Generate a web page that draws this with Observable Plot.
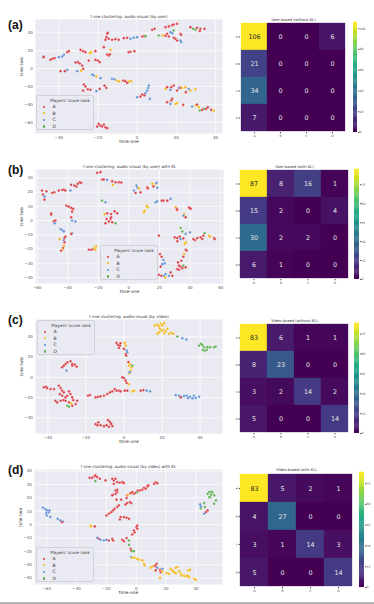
<!DOCTYPE html>
<html><head><meta charset="utf-8">
<script src="https://cdn.jsdelivr.net/npm/d3@7"></script>
<script src="https://cdn.jsdelivr.net/npm/@observablehq/plot@0.6"></script>
<style>
body{margin:0;background:#fff;}
#root{position:relative;width:374px;height:604px;overflow:hidden;font-family:"DejaVu Sans",sans-serif;background:#fff;}
.tag{position:absolute;font:bold 12px/1 "Liberation Sans",Arial,sans-serif;color:#111;}
.legend{position:absolute;background:rgba(234,234,242,0.9);border:0.6px solid #d2d2da;border-radius:2px;color:#333;font-family:"DejaVu Sans",sans-serif;}
.legend .lt{position:absolute;left:0;right:0;text-align:center;font-size:4.2px;line-height:5px;}
.legend .dot{position:absolute;width:2.4px;height:2.4px;border-radius:50%;}
.legend .lab{position:absolute;font-size:4.6px;line-height:5px;}
</style></head><body><div id="root"></div>
<script>
// ---- categories & colours
const ranks = ["A", "B", "C", "D"];
const rankColors = ["#d93a40", "#f2b50e", "#5b8fd4", "#5aad4b"];

// ---- scatter tick labels
const ticksA_x = [-40, -20, 0, 20, 40];
const ticksA_y = [-60, -40, -20, 0, 20, 40];
const ticksB_x = [-60, -40, -20, 0, 20, 40, 60];
const ticksB_y = [-40, -30, -20, -10, 0, 10, 20, 30];
const ticksC_x = [-40, -20, 0, 20, 40];
const ticksC_y = [-40, -20, 0, 20, 40];
const ticksD_x = [-60, -40, -20, 0, 20, 40];
const ticksD_y = [-40, -30, -20, -10, 0, 10, 20, 30, 40];

// ---- t-SNE points [tsne-one, tsne-two, rank]
const tsneUser = [
 [7.7,43.4,"A"],[8.9,44.5,"A"],[14.5,46.3,"A"],[16.2,47.1,"A"],[17.9,48.6,"A"],[18.7,49.3,"A"],[20.4,50.1,"A"],
 [11.0,37.0,"D"],[13.0,37.0,"B"],[14.5,36.5,"A"],[18.7,42.6,"D"],[17.0,40.7,"C"],[17.9,39.6,"C"],[15.3,38.9,"A"],
 [16.2,35.9,"A"],[18.7,34.4,"A"],[19.6,33.3,"A"],[22.1,38.9,"A"],[22.5,37.8,"A"],[22.1,31.4,"C"],[22.5,29.6,"C"],[20.4,31.4,"A"],
 [27.2,46.3,"A"],[28.6,44.5,"D"],[29.8,43.4,"D"],[30.6,45.6,"A"],[32.3,44.5,"A"],[32.0,41.9,"A"],[34.4,44.5,"A"],
 [-48.0,13.5,"C"],[-47.7,12.8,"A"],[-44.3,9.8,"A"],[-43.4,10.9,"A"],[-42.2,11.6,"A"],[-40.0,12.8,"C"],[-38.3,13.5,"C"],
 [-37.4,15.4,"C"],[-35.7,18.4,"A"],[-34.9,19.5,"A"],
 [-15.3,38.9,"A"],[-15.0,40.0,"A"],[-15.7,35.1,"A"],[-16.2,32.2,"A"],[-14.5,33.3,"A"],[-12.8,32.2,"A"],[-11.1,32.9,"A"],
 [-9.4,32.2,"A"],[-6.8,34.0,"A"],[-5.1,34.4,"A"],[-3.4,33.3,"C"],[-1.7,34.4,"C"],[0,35.1,"C"],[2.6,35.9,"A"],[3.7,36.3,"A"],[4.3,36.3,"D"],
 [-17.0,24.0,"A"],[-15.3,15.7,"A"],[-14.5,14.6,"A"],[-13.6,21.0,"B"],[-13.9,16.0,"A"],[-4.3,18.4,"A"],[-3.4,18.7,"A"],[-1.4,19.5,"A"],
 [-28.9,21.0,"A"],[-27.6,19.5,"A"],[-26.4,18.4,"A"],[-24.2,17.2,"B"],[-23.5,18.4,"B"],[-21.3,19.5,"A"],
 [-24.7,9.0,"A"],[-21.3,9.8,"A"],[-20.1,9.0,"A"],[-19.1,7.2,"A"],[-31.5,6.8,"A"],[-30.3,7.2,"A"],[-29.3,5.7,"A"],[-28.1,3.4,"A"],
 [-27.6,-0.4,"A"],[-28.6,-2.2,"B"],
 [-39.1,-2.9,"A"],[-36.9,-2.9,"A"],[-35.7,-1.4,"C"],[-30.6,-2.9,"C"],
 [-23.0,-6.6,"C"],[-22.1,-7.8,"C"],[-20.8,-8.9,"B"],[-18.7,-10.7,"C"],[-12.8,-11.5,"C"],[-11.6,-11.9,"C"],[-10.2,-13.4,"B"],
 [-9.2,-14.5,"B"],[-7.1,-13.4,"A"],[-6.0,-14.1,"A"],[-4.3,-14.9,"B"],[-3.1,-14.1,"B"],[-5.1,-16.0,"A"],
 [-27.2,-17.8,"A"],[-26.4,-20.1,"A"],[-25.2,-23.1,"A"],[-23.8,-23.8,"A"],[-20.8,-25.3,"C"],[-19.1,-22.7,"A"],[-16.7,-19.0,"A"],
 [-15.7,-21.6,"A"],[-27.6,-24.6,"A"],
 [0,-32.0,"C"],[1.7,-31.3,"A"],[2.6,-29.0,"A"],[4.3,-27.5,"C"],[5.1,-24.6,"C"],[5.6,-21.6,"C"],[6.0,-19.0,"C"],[6.5,-33.9,"C"],[3.7,-30.0,"A"],
 [14.5,-22.7,"B"],[15.3,-20.8,"A"],[17.4,-20.8,"A"],[18.7,-19.0,"A"],[21.3,-21.6,"C"],[22.1,-21.6,"A"],[23.0,-21.6,"B"],
 [24.7,-20.8,"B"],[26.4,-22.7,"C"],[27.2,-24.6,"B"],[29.8,-23.1,"B"],[20.4,-24.6,"A"],[24.9,-26.4,"A"],[17.0,-23.8,"C"],
 [15.3,-37.6,"A"],[17.0,-39.5,"C"],[17.4,-35.7,"A"],[17.9,-33.9,"A"],[19.6,-39.5,"B"],[20.4,-38.7,"B"],[23.5,-40.6,"A"],
 [28.1,-42.5,"C"],[29.8,-41.3,"B"],[31.5,-43.2,"B"],[34.0,-45.1,"D"],[35.2,-45.1,"A"],[36.1,-43.2,"A"],[37.8,-46.2,"A"],
 [39.1,-46.9,"B"],[32.0,-46.9,"D"],[33.2,-46.2,"A"],[30.6,-40.2,"A"],
 [-20.4,-64.9,"A"],[-19.6,-61.9,"A"],[-18.7,-63.7,"A"],[-17.9,-64.9,"A"],[-17.0,-62.6,"A"],[-16.2,-65.6,"A"],[-15.3,-66.7,"A"]
];
const tsneUserKL = [
 [-56.7,21.1,"A"],[-53.9,20.6,"A"],[-56.1,18.3,"A"],[-55.0,16.9,"C"],[-55.2,14.7,"A"],[-50.2,19.4,"A"],[-48.7,19.9,"A"],
 [-45.8,21.1,"A"],[-43.6,21.5,"A"],[-42.5,21.8,"A"],[-41.5,21.1,"A"],[-38.2,21.1,"C"],[-37.7,25.1,"A"],[-35.6,24.6,"A"],
 [-34.3,23.9,"A"],[-33.4,25.8,"A"],[-32.1,26.9,"A"],[-31.2,26.5,"A"],
 [-20.7,33.5,"A"],[-18.5,34.0,"A"],[-17.5,28.8,"A"],[-16.4,28.8,"A"],[-14.2,28.6,"C"],[-10.9,27.7,"A"],[-10.5,25.1,"B"],
 [-8.7,26.9,"A"],[-6.5,26.9,"A"],[-5.0,26.7,"A"],
 [-40.8,10.5,"A"],[-39.3,9.8,"A"],[-37.7,8.9,"A"],[-36.4,8.2,"A"],[-37.1,6.3,"A"],[-50.8,5.1,"A"],[-50.8,4.2,"A"],
 [-49.1,-0.5,"A"],[-48.0,0,"A"],[-48.4,-1.9,"C"],[-37.7,2.3,"A"],[-37.1,0,"C"],[-34.9,-0.7,"C"],[-37.1,-9.0,"C"],[-37.7,-9.4,"A"],
 [-44.7,-5.9,"C"],[-43.6,-6.6,"C"],[-42.5,-7.6,"C"],[-45.2,-13.0,"B"],[-42.5,-13.7,"C"],[-42.1,-12.3,"A"],[-41.5,-11.3,"A"],
 [-42.1,-15.3,"A"],[-42.5,-17.7,"B"],[-43.0,-19.3,"A"],[-43.6,-20.5,"B"],[-44.3,-21.2,"A"],
 [-26.2,-20.5,"A"],[-24.7,-20.5,"A"],[-23.3,-20.0,"A"],[-22.5,-19.3,"B"],[-21.4,-18.1,"B"],[-21.8,-20.5,"B"],
 [-17.5,14.0,"D"],[-15.3,12.9,"C"],[-15.9,4.6,"B"],[-14.2,5.1,"A"],[-11.6,4.6,"A"],[-9.4,6.5,"A"],[-7.6,5.1,"A"],
 [-14.6,1.1,"A"],[-12.0,1.1,"A"],[-15.3,-1.9,"A"],[-13.1,-0.7,"A"],[-10.9,-1.2,"A"],[-8.7,-1.9,"D"],[-11.6,2.3,"A"],
 [3.3,21.1,"C"],[4.4,19.4,"A"],[5.5,23.0,"C"],[5.0,24.6,"C"],[6.5,22.7,"B"],[7.6,19.9,"A"],[12.0,23.4,"A"],[12.4,22.7,"A"],
 [15.3,25.8,"B"],[17.5,25.8,"B"],[18.5,23.0,"C"],[18.1,26.5,"C"],[16.0,24.0,"A"],
 [9.8,5.8,"B"],[10.3,7.0,"B"],[11.6,10.5,"B"],[12.4,9.3,"B"],[17.5,12.9,"C"],[18.5,13.6,"C"],[21.4,14.0,"A"],[22.5,14.0,"A"],
 [25.1,14.0,"A"],[27.3,15.2,"C"],[30.6,9.3,"B"],[31.2,8.2,"A"],[31.6,7.5,"A"],[36.0,4.6,"B"],[36.7,2.8,"B"],[35.6,3.5,"C"],
 [37.1,2.3,"A"],[39.3,9.3,"A"],[40.4,8.2,"A"],[39.9,8.6,"A"],
 [19.6,-10.6,"A"],[29.9,-11.8,"A"],[31.6,-12.3,"A"],[33.2,-11.3,"A"],[33.8,-13.0,"C"],[35.6,-12.5,"A"],[37.1,-9.4,"C"],
 [39.9,-8.3,"C"],[42.1,-13.0,"A"],[43.2,-13.7,"A"],[44.7,-12.3,"A"],[46.9,-11.8,"A"],[48.0,-13.0,"A"],[48.7,-10.6,"A"],
 [49.5,-8.8,"D"],[52.4,-10.6,"B"],[53.0,-11.3,"B"],[55.6,-12.3,"A"],[56.1,-13.0,"A"],[34.9,-7.6,"D"],[33.8,-5.2,"D"],[31.6,-14.5,"A"],
 [20.3,-23.5,"A"],[21.4,-25.4,"A"],[22.5,-27.7,"C"],[21.8,-30.6,"C"],[23.4,-30.1,"C"],[20.7,-32.4,"A"],[19.6,-38.1,"A"],
 [21.2,-38.8,"A"],[22.9,-38.8,"C"],[24.0,-37.6,"C"],[26.2,-38.8,"C"],[23.6,-40.0,"B"],[27.3,-36.4,"A"],[28.4,-38.8,"A"],
 [31.6,-34.1,"A"],[32.7,-34.6,"A"],[33.8,-32.4,"A"],[34.9,-33.4,"A"],[35.6,-31.7,"D"],[37.1,-32.9,"A"],[32.1,-29.4,"A"],
 [32.7,-31.7,"A"],[34.3,-28.2,"A"],[35.6,-25.4,"A"],[36.0,-23.5,"B"],[37.8,-21.2,"A"],[37.1,-20.5,"A"],[36.4,-16.5,"B"],[37.3,-15.3,"B"]
];
const tsneVideo = [
 [16.1,51.2,"B"],[17.5,52.2,"B"],[18.4,50.2,"B"],[19.3,52.9,"B"],[20.2,51.2,"B"],[21.1,53.6,"B"],[18.9,47.9,"B"],[19.6,46.3,"B"],
 [20.7,46.9,"B"],[21.9,45.6,"B"],[22.8,47.9,"B"],[17.5,43.0,"B"],[18.4,44.6,"B"],[21.1,43.6,"B"],[23.7,43.0,"B"],[24.9,44.0,"B"],
 [26.0,43.0,"B"],[28.1,40.3,"D"],[30.7,38.7,"C"],[32.8,37.4,"C"],
 [39.5,31.4,"D"],[40.4,33.1,"D"],[41.2,32.1,"D"],[42.1,29.8,"D"],[42.5,26.4,"D"],[43.5,27.1,"D"],[43.9,29.8,"D"],[45.3,29.8,"D"],
 [47.4,29.8,"D"],[48.2,30.4,"D"],[41.5,27.0,"D"],
 [-3.9,34.0,"A"],[-3.2,32.1,"A"],[-2.1,31.4,"A"],[-1.8,33.7,"A"],[-2.6,29.1,"A"],[0.4,34.0,"B"],[0.9,31.4,"B"],[0,28.1,"A"],
 [1.4,26.4,"C"],[1.8,24.8,"C"],[0.9,23.1,"A"],[1.2,21.5,"A"],[3.2,13.2,"B"],[2.6,11.6,"B"],[3.9,9.9,"B"],[3.5,6.6,"B"],
 [2.8,4.0,"B"],[4.4,11.6,"D"],[3.0,5.0,"C"],[-0.9,0,"A"],[0,-0.7,"A"],[0.9,-3.3,"A"],[2.6,-6.6,"B"],[1.4,-5.6,"A"],[2.3,15.2,"A"],
 [-32.5,9.9,"A"],[-31.6,11.6,"A"],[-30.7,13.2,"A"],[-29.8,14.9,"A"],[-28.1,15.9,"A"],[-27.2,11.6,"A"],[-26.0,12.6,"A"],
 [-24.9,10.6,"A"],[-30.2,6.6,"C"],[-27.2,13.2,"A"],
 [-42.1,-9.9,"A"],[-40.9,-9.3,"A"],[-40.4,-10.6,"A"],[-38.6,-11.6,"A"],[-36.8,-11.6,"A"],[-34.2,-8.3,"A"],[-33.3,-10.6,"A"],
 [-32.5,-13.2,"A"],[-33.7,-16.5,"A"],[-32.5,-18.2,"A"],[-31.6,-14.9,"A"],[-30.7,-19.8,"A"],[-29.8,-18.2,"A"],[-28.9,-13.9,"A"],
 [-28.1,-16.5,"A"],[-27.2,-19.8,"A"],[-36.0,-23.1,"A"],[-35.1,-24.8,"A"],[-33.3,-23.1,"A"],[-31.9,-22.5,"A"],[-30.7,-23.1,"A"],
 [-28.9,-24.8,"A"],[-27.7,-25.8,"B"],[-26.7,-22.5,"A"],[-25.4,-26.4,"A"],[-24.6,-23.1,"A"],[-29.8,-28.1,"D"],[-28.9,-29.1,"D"],[-27.2,-28.1,"A"],
 [-18.9,-18.2,"A"],[-17.9,-17.5,"A"],[-14.9,-19.8,"A"],[-13.7,-19.2,"A"],[-12.3,-18.8,"A"],[-10.5,-18.2,"A"],[-8.8,-16.5,"A"],
 [-7.4,-14.9,"A"],[-6.1,-13.9,"A"],[-4.9,-11.6,"A"],[-3.9,-13.2,"A"],[-2.6,-13.2,"A"],[-1.8,-13.9,"A"],[0.4,-13.2,"A"],
 [1.8,-13.2,"A"],[4.4,-13.9,"B"],[5.3,-13.2,"B"],[8.8,-13.2,"A"],[10.2,-12.6,"A"],[11.9,-13.2,"C"],[13.7,-13.9,"C"],
 [27.2,-17.5,"C"],[28.9,-18.2,"C"],[30.2,-19.2,"C"],[31.6,-18.5,"C"],[33.0,-18.2,"C"],[33.7,-20.5,"C"],[34.7,-19.2,"C"],
 [36.0,-20.8,"C"],[36.8,-18.2,"C"],[37.7,-20.5,"C"],[39.5,-19.2,"C"],[29.8,-19.8,"A"],
 [-14.9,-46.3,"A"],[-14.0,-47.3,"A"],[-12.3,-47.3,"A"],[-10.5,-48.3,"A"],[-9.1,-47.3,"A"],[-7.9,-48.9,"A"],[-7.0,-45.6,"A"],
 [-6.1,-48.3,"A"],[-8.4,-42.3,"A"],[-7.4,-44.0,"A"],[-6.7,-46.0,"A"],[-13.5,-44.5,"A"]
];
const tsneVideoKL = [
 [-31.2,35.0,"A"],[-29.6,35.0,"A"],[-28.0,36.0,"A"],[-27.4,36.8,"A"],[-26.2,35.5,"A"],[-24.4,34.3,"A"],[-27.4,32.5,"D"],
 [-20.6,33.0,"A"],[-16.1,34.3,"A"],[-15.0,33.0,"A"],[-13.9,34.3,"A"],[-12.8,31.8,"A"],[-11.0,31.3,"A"],[-9.4,31.8,"A"],
 [-8.3,31.0,"A"],[-15.0,30.5,"A"],
 [-15.7,22.3,"A"],[-13.9,23.0,"A"],[-12.8,24.3,"A"],[-13.9,25.5,"A"],[-12.8,26.0,"A"],[-16.1,21.8,"A"],[-13.2,18.6,"A"],
 [-10.1,18.6,"A"],[-7.2,15.1,"A"],[-6.1,16.1,"A"],[-6.5,19.8,"A"],[-6.1,21.8,"A"],[-5.6,22.3,"B"],[-3.8,23.5,"A"],[-2.7,24.3,"A"],
 [-1.6,23.0,"A"],[-0.4,23.8,"A"],[0.7,24.3,"D"],[1.1,25.5,"A"],[2.5,25.5,"A"],[4.0,26.0,"A"],[5.2,27.5,"A"],[6.3,26.8,"A"],
 [7.4,28.5,"A"],[8.1,29.3,"A"],[11.9,30.5,"A"],[13.0,31.5,"A"],[14.1,31.0,"A"],[-4.3,16.8,"A"],[-3.4,16.1,"A"],
 [-20.0,6.8,"A"],[-18.4,8.1,"A"],[-16.8,9.3,"A"],[-15.5,10.6,"A"],[-14.6,11.8,"A"],[-12.8,13.1,"A"],[-11.7,14.3,"A"],
 [-10.5,5.6,"A"],[-11.0,3.8,"A"],[-8.3,5.6,"A"],[-6.5,5.1,"A"],[-4.9,4.3,"A"],
 [0.7,-0.7,"A"],[0.2,-1.9,"A"],[0.7,-3.1,"A"],[-1.6,-4.4,"A"],[-1.1,-5.9,"A"],[-2.7,-7.4,"A"],
 [-30.7,-0.7,"B"],[-30.3,-1.4,"B"],[-27.8,-1.4,"A"],[-26.2,-9.9,"C"],[-25.1,-10.6,"A"],[-24.0,-11.4,"C"],[-21.7,-11.9,"C"],
 [-20.0,-11.4,"C"],[-18.4,-11.9,"A"],[-16.1,-10.6,"A"],[-15.5,-11.9,"A"],[-9.4,-11.4,"A"],[-8.3,-12.4,"A"],[-6.5,-10.1,"A"],
 [-4.9,-11.9,"D"],[-3.8,-18.1,"A"],[-3.4,-19.4,"A"],[-2.7,-19.9,"D"],[-1.6,-19.9,"D"],[-4.9,-15.1,"D"],
 [-62.6,12.6,"C"],[-61.0,11.6,"C"],[-59.9,10.6,"C"],[-58.7,9.3,"C"],[-60.3,8.6,"C"],[-58.1,10.6,"C"],[-59.9,6.8,"C"],
 [-57.6,5.6,"C"],[-52.7,4.3,"C"],[-50.9,3.1,"C"],[-49.1,2.3,"C"],[-49.8,1.8,"A"],
 [47.8,23.0,"D"],[48.9,24.3,"D"],[50.0,22.3,"D"],[49.6,20.5,"D"],[51.1,23.8,"D"],[52.2,21.8,"D"],[53.4,18.1,"D"],[52.2,15.6,"D"],
 [45.5,16.1,"D"],[46.0,13.1,"D"],[43.3,12.1,"D"],[42.8,15.1,"C"],[43.3,13.6,"C"],[46.6,9.3,"A"],[47.8,10.6,"A"],[45.5,8.1,"C"],
 [49.0,20.5,"D"],[50.5,24.5,"D"],
 [-3.4,-24.3,"C"],[-2.7,-24.8,"B"],[-1.1,-24.8,"B"],[0.7,-25.6,"B"],[1.8,-26.3,"B"],[4.0,-26.8,"B"],[5.2,-29.3,"B"],
 [5.6,-30.6,"B"],[9.6,-32.3,"B"],[10.8,-31.3,"B"],[13.0,-31.3,"A"],[14.1,-32.3,"C"],[13.0,-34.3,"A"],[15.9,-33.8,"A"],
 [16.4,-35.6,"A"],[17.5,-33.1,"C"],[15.9,-39.8,"B"],[17.5,-35.0,"B"],[20.4,-36.3,"B"],[23.1,-33.1,"B"],[24.2,-34.3,"B"],
 [25.3,-35.6,"B"],[26.5,-32.3,"B"],[27.6,-31.8,"B"],[28.7,-34.8,"B"],[29.8,-36.8,"B"],[30.3,-38.1,"B"],[32.1,-38.1,"B"],
 [33.2,-38.8,"B"],[34.3,-38.1,"B"],[34.8,-34.3,"B"],[36.1,-33.8,"B"],[35.4,-39.3,"B"],[38.8,-40.5,"B"],[39.9,-41.3,"B"],
 [12.6,-30.6,"A"],[13.7,-29.3,"A"],[26.5,-36.3,"B"],[22.0,-36.8,"B"]
];

// ---- confusion matrices (rows: true rank, cols: predicted rank)
const cmUser    = [[106,0,0,6],[21,0,0,0],[34,0,0,0],[7,0,0,0]];
const cmUserKL  = [[87,8,16,1],[15,2,0,4],[30,2,2,0],[6,1,0,0]];
const cmVideo   = [[83,6,1,1],[8,23,0,0],[3,2,14,2],[5,0,0,14]];
const cmVideoKL = [[83,5,2,1],[4,27,0,0],[3,1,14,3],[5,0,0,14]];
const cbTicksA = [0, 20, 40, 60, 80, 100];
const cbTicks15 = [0, 15, 30, 45, 60, 75];

const root = document.getElementById("root");
function place(node, left, top) {
  node.style.position = "absolute";
  node.style.left = left + "px";
  node.style.top = top + "px";
  root.appendChild(node);
}

function scatter(c) {
  const mt = 12, mb = 14;
  const chart = Plot.plot({
    width: 240, height: (c.B - c.T) + mt + mb,
    marginLeft: c.L, marginRight: 240 - c.R, marginTop: mt, marginBottom: mb,
    style: {fontFamily: "DejaVu Sans", fontSize: "4px", color: "#555", background: "transparent", overflow: "visible"},
    x: {domain: c.xd}, y: {domain: c.yd},
    color: {domain: ranks, range: rankColors},
    marks: [
      Plot.frame({fill: "#EAEAF2", stroke: null}),
      Plot.gridX(c.xt, {stroke: "#ffffff", strokeOpacity: 1, strokeWidth: 0.7}),
      Plot.gridY(c.yt, {stroke: "#ffffff", strokeOpacity: 1, strokeWidth: 0.7}),
      Plot.axisX(c.xt, {tickSize: 0, tickPadding: 2.2, label: null, fontSize: 4}),
      Plot.axisY(c.yt, {tickSize: 0, tickPadding: 2.6, label: null, fontSize: 4}),
      Plot.dot(c.data, {x: d => d[0], y: d => d[1], fill: d => d[2], r: 1.35, stroke: "#ffffff", strokeWidth: 0.3}),
      Plot.text([c.title], {frameAnchor: "top", dy: -4.3, fontSize: 4, fill: "#333"}),
      Plot.text(["tsne-one"], {frameAnchor: "bottom", dy: 9, fontSize: 4.4, fill: "#333"}),
      Plot.text(["tsne-two"], {frameAnchor: "left", dx: -14, rotate: -90, fontSize: 4.4, fill: "#333"})
    ]
  });
  place(chart, 0, c.T - mt);
}

function legend(x, y) {
  const box = document.createElement("div");
  box.className = "legend";
  box.style.width = "56px"; box.style.height = "33px";
  const t = document.createElement("div");
  t.className = "lt"; t.style.top = "1.5px"; t.style.paddingLeft = "10px";
  t.textContent = "Players' score rank";
  box.appendChild(t);
  ranks.forEach((r, i) => {
    const d = document.createElement("div");
    d.className = "dot";
    d.style.left = "5.7px"; d.style.top = (9.5 + i * 6.6) + "px";
    d.style.background = rankColors[i];
    box.appendChild(d);
    const l = document.createElement("div");
    l.className = "lab";
    l.style.left = "15.5px"; l.style.top = (8.2 + i * 6.6) + "px";
    l.textContent = r;
    box.appendChild(l);
  });
  place(box, x, y);
}

function heatmap(c) {
  const cells = [];
  c.m.forEach((row, i) => row.forEach((v, j) => cells.push({t: ranks[i], p: ranks[j], v})));
  const mt = 10, mb = 8, ml = 8;
  const max = d3.max(cells, d => d.v);
  const color = {type: "linear", scheme: "viridis", domain: [0, max]};
  const bright = d => d.v > max * 0.6;
  const chart = Plot.plot({
    width: (c.R - c.L) + ml + 2, height: (c.B - c.T) + mt + mb,
    marginLeft: ml, marginRight: 2, marginTop: mt, marginBottom: mb,
    style: {fontFamily: "DejaVu Sans", fontSize: "3px", color: "#444", background: "transparent", overflow: "visible"},
    x: {domain: ranks, padding: 0}, y: {domain: ranks, padding: 0},
    color,
    marks: [
      Plot.cell(cells, {x: "p", y: "t", fill: "v", inset: -0.15}),
      Plot.text(cells, {filter: d => !bright(d), x: "p", y: "t", text: d => String(d.v), fontSize: 6.4, fill: "#e6e6e6"}),
      Plot.text(cells, {filter: bright, x: "p", y: "t", text: d => String(d.v), fontSize: 6.4, fill: "#262626"}),
      Plot.axisX({tickSize: 1.2, tickPadding: 1, label: null, fontSize: 3}),
      Plot.axisY({tickSize: 1.2, tickPadding: 1, tickRotate: -90, label: null, fontSize: 3}),
      Plot.text([c.title], {frameAnchor: "top", dy: -3.8, fontSize: 3.7, fill: "#333"})
    ]
  });
  place(chart, c.L - ml, c.T - mt);
  // colourbar
  const n = 120;
  const steps = d3.range(n).map(i => ({y1: i * max / n, y2: (i + 1) * max / n}));
  const cbw = c.cbR - c.cbL;
  const bar = Plot.plot({
    width: cbw + 12, height: (c.B - c.T) + mt + mb,
    marginLeft: 0, marginRight: 12, marginTop: mt, marginBottom: mb,
    style: {fontFamily: "DejaVu Sans", fontSize: "3px", color: "#444", background: "transparent", overflow: "visible"},
    x: {domain: [0, 1], axis: null}, y: {domain: [0, max]},
    color,
    marks: [
      Plot.rect(steps, {x1: 0, x2: 1, y1: "y1", y2: "y2", fill: d => (d.y1 + d.y2) / 2, insetTop: -0.3}),
      Plot.axisY(c.cbt, {anchor: "right", tickSize: 1.3, tickPadding: 0.8, label: null, fontSize: 3})
    ]
  });
  place(bar, c.cbL, c.T - mt);
}

// ---- rows
scatter({data: tsneUser, L: 35, R: 222, T: 19, B: 133, xd: [-51.9, 43.6], yd: [-72.6, 54.9], xt: ticksA_x, yt: ticksA_y,
  title: "t-sne clustering: audio-visual (by user)"});
scatter({data: tsneUserKL, L: 35, R: 223, T: 169, B: 283, xd: [-61, 61.8], yd: [-44.2, 35.9], xt: ticksB_x, yt: ticksB_y,
  title: "t-sne clustering: audio-visual (by user) with KL"});
scatter({data: tsneVideo, L: 35, R: 222, T: 319, B: 433, xd: [-46.5, 51.8], yd: [-55.5, 57.2], xt: ticksC_x, yt: ticksC_y,
  title: "t-sne clustering: audio-visual (by video)"});
scatter({data: tsneVideoKL, L: 34, R: 222, T: 469, B: 584, xd: [-68.2, 57.8], yd: [-44.8, 41.2], xt: ticksD_x, yt: ticksD_y,
  title: "t-sne clustering: audio-visual (by video) with KL"});

legend(36, 95);
legend(100, 245);
legend(37, 320);
legend(36, 547);

heatmap({m: cmUser, L: 240, R: 346, T: 22, B: 132, cbL: 353, cbR: 357, cbt: cbTicksA, title: "User-based (without KL)"});
heatmap({m: cmUserKL, L: 240, R: 348, T: 169, B: 279, cbL: 354, cbR: 359, cbt: cbTicks15, title: "User-based (with KL)"});
heatmap({m: cmVideo, L: 240, R: 348, T: 323, B: 433, cbL: 354, cbR: 359, cbt: cbTicks15, title: "Video-based (without KL)"});
heatmap({m: cmVideoKL, L: 240, R: 352, T: 472, B: 587, cbL: 359, cbR: 364, cbt: cbTicks15, title: "Video-based (with KL)"});

// panel tags
[["(a)", 19], ["(b)", 164], ["(c)", 314], ["(d)", 464]].forEach(([t, y]) => {
  const d = document.createElement("div");
  d.className = "tag"; d.textContent = t;
  place(d, 8, y);
});
// bottom rule
const rule = document.createElement("div");
rule.style.width = "374px"; rule.style.height = "2px"; rule.style.background = "#b4b4b4";
place(rule, 0, 602);
</script></body></html>
